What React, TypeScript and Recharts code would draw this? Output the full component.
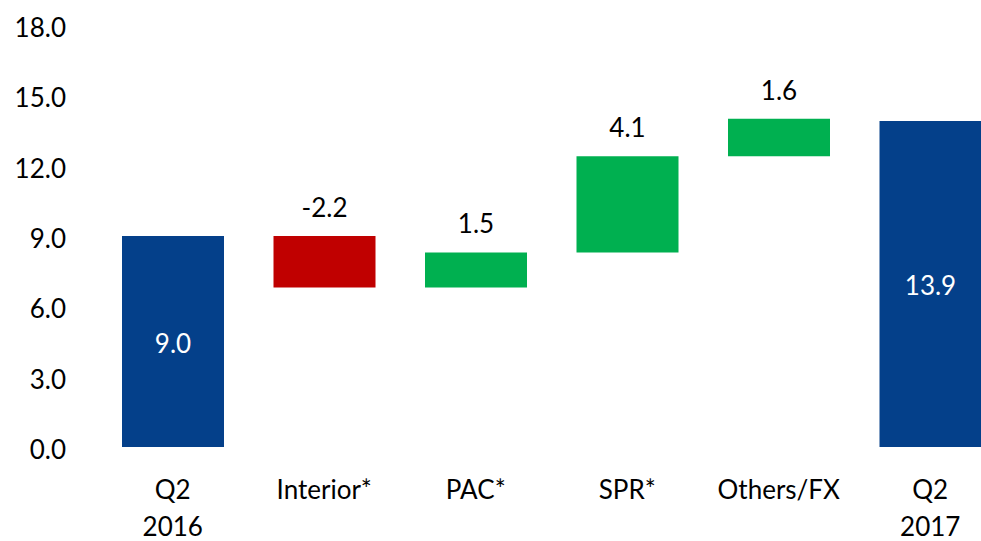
import React from 'react';
import { BarChart, Bar, XAxis, YAxis, Cell, LabelList } from 'recharts';

const categories = ['Q2\n2016', 'Interior*', 'PAC*', 'SPR*', 'Others/FX', 'Q2\n2017'];
const values = [9.0, -2.2, 1.5, 4.1, 1.6, 13.9];
const kinds = ['total', 'delta', 'delta', 'delta', 'delta', 'total'];
const yTicks = [0, 3, 6, 9, 12, 15, 18];

const COLOR_TOTAL = '#04408A';
const COLOR_UP = '#00B050';
const COLOR_DOWN = '#C00000';
const FONT = 'Lato, "Open Sans", sans-serif';
const FS = 26;

function buildData() {
  let running = 0;
  return categories.map((name, i) => {
    const v = values[i];
    let range: number[];
    if (kinds[i] === 'total') {
      range = [0, v];
      running = v;
    } else {
      const a = running;
      const b = running + v;
      range = [Math.min(a, b), Math.max(a, b)];
      running = b;
    }
    return { name, range, value: v, kind: kinds[i] };
  });
}

const data = buildData();

const XTick = (props: any) => {
  const { x, y, payload } = props;
  const lines = String(payload.value).split('\n');
  return (
    <text x={x} y={y} textAnchor="middle" fill="#000" fontSize={FS} fontFamily={FONT}>
      {lines.map((l, i) => (
        <tspan key={i} x={x} dy={i === 0 ? 52 : 37}>
          {l}
        </tspan>
      ))}
    </text>
  );
};

const YTick = (props: any) => {
  const { x, y, payload } = props;
  return (
    <text x={x} y={y} dy={12} textAnchor="end" fill="#000" fontSize={FS} fontFamily={FONT}>
      {Number(payload.value).toFixed(1)}
    </text>
  );
};

const renderLabel = (props: any) => {
  const { x, y, width, height, index } = props;
  const d = data[index];
  const cx = Number(x) + Number(width) / 2;
  const top = Math.min(Number(y), Number(y) + Number(height));
  const h = Math.abs(Number(height));
  if (d.kind === 'total') {
    return (
      <text x={cx} y={top + h / 2 + 11} textAnchor="middle" fill="#fff" fontSize={FS} fontFamily={FONT}>
        {d.value.toFixed(1)}
      </text>
    );
  }
  return (
    <text x={cx} y={top - 19} textAnchor="middle" fill="#000" fontSize={FS} fontFamily={FONT}>
      {d.value.toFixed(1)}
    </text>
  );
};

export default function App() {
  return (
    <div
      style={{
        position: 'absolute',
        left: 0,
        top: 0,
        width: 981,
        height: 541,
        overflow: 'hidden',
        background: '#fff',
        fontFamily: FONT,
      }}
    >
      <BarChart
        width={1006}
        height={541}
        data={data}
        margin={{ top: 25, right: 0, bottom: 0, left: 0 }}
      >
        <YAxis
          domain={[0, 18]}
          ticks={yTicks}
          axisLine={false}
          tickLine={false}
          width={97}
          tickSize={0}
          tickMargin={31}
          tick={<YTick />}
          interval={0}
        />
        <XAxis
          dataKey="name"
          interval={0}
          axisLine={false}
          tickLine={false}
          tickSize={0}
          tickMargin={0}
          height={94}
          tick={<XTick />}
        />
        <Bar dataKey="range" barSize={102} isAnimationActive={false}>
          {data.map((d, i) => (
            <Cell
              key={i}
              fill={d.kind === 'total' ? COLOR_TOTAL : d.value < 0 ? COLOR_DOWN : COLOR_UP}
            />
          ))}
          <LabelList dataKey="range" content={renderLabel} />
        </Bar>
      </BarChart>
    </div>
  );
}
